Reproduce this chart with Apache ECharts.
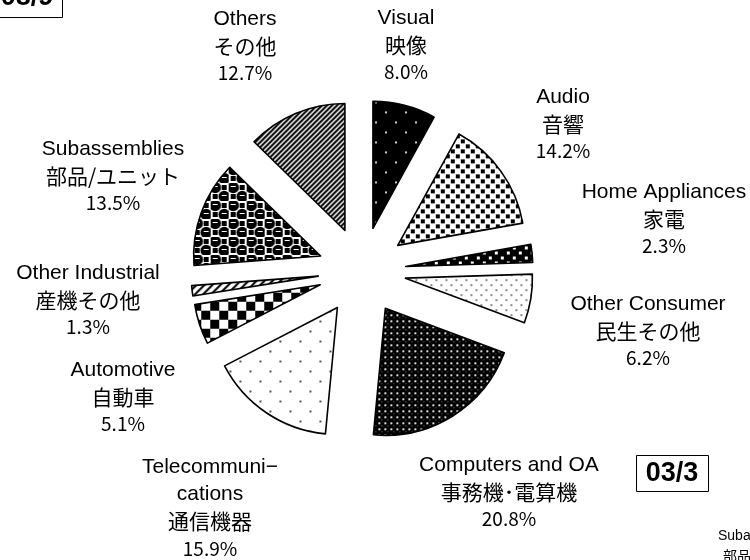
<!DOCTYPE html>
<html>
<head>
<meta charset="utf-8">
<script src="https://cdn.jsdelivr.net/npm/echarts@6/dist/echarts.min.js"></script>
<style>
html,body{margin:0;padding:0;background:#fff;}
#chart{width:750px;height:560px;}
</style>
</head>
<body>
<div id="chart"></div>
<script>
// ---- data ----
var enNames = ['Visual', 'Audio', 'Home Appliances', 'Other Consumer', 'Computers and OA',
  'Telecommuni\u2212\ncations', 'Automotive', 'Other Industrial', 'Subassemblies', 'Others'];
var jaNames = ['映像', '音響', '家電', '民生その他', '事務機･電算機',
  '通信機器', '自動車', '産機その他', '部品/ユニット', 'その他'];
var shares = [8.0, 14.2, 2.3, 6.2, 20.8, 15.9, 5.1, 1.3, 13.5, 12.7];
var periodLabel = '03/3';
var prevPeriodLabel = '08/9';

// ---- label placement (text block centres) ----
var labelX = [406, 563, 664, 648, 509, 210, 123, 88, 113, 245];
var labelY = [45, 124, 219, 331, 492, 508, 397, 300, 176, 46];

// ---- fill patterns ----
function tile(w, h, draw) {
  var c = document.createElement('canvas');
  c.width = w; c.height = h;
  var g = c.getContext('2d');
  draw(g, w, h);
  return { image: c, repeat: 'repeat' };
}
var patterns = [
  // Visual: black with sparse light dots
  tile(20, 20, function (g) {
    g.fillStyle = '#000'; g.fillRect(0, 0, 20, 20);
    g.fillStyle = '#ccc'; g.fillRect(4, 4, 2, 2); g.fillRect(14, 14, 2, 2);
  }),
  // Audio: white with black squares
  tile(10, 10, function (g) {
    g.fillStyle = '#fff'; g.fillRect(0, 0, 10, 10);
    g.fillStyle = '#000'; g.fillRect(0, 0, 4, 4); g.fillRect(5, 5, 4, 4);
  }),
  // Home appliances: black with white squares
  tile(12, 10, function (g) {
    g.fillStyle = '#000'; g.fillRect(0, 0, 12, 10);
    g.fillStyle = '#fff'; g.fillRect(1, 1, 3, 3); g.fillRect(7, 6, 3, 3);
  }),
  // Other consumer: white with fine grey dots
  tile(10, 10, function (g) {
    g.fillStyle = '#fff'; g.fillRect(0, 0, 10, 10);
    g.fillStyle = '#888'; g.fillRect(2, 2, 2, 2); g.fillRect(7, 7, 2, 2);
  }),
  // Computers: dark crosshatch
  tile(6, 6, function (g) {
    g.fillStyle = '#000'; g.fillRect(0, 0, 6, 6);
    g.fillStyle = '#ddd'; g.fillRect(1, 1, 2, 2);
    g.fillStyle = '#777'; g.fillRect(4, 4, 1, 1);
  }),
  // Telecom: white with sparse dark dots
  tile(20, 20, function (g) {
    g.fillStyle = '#fff'; g.fillRect(0, 0, 20, 20);
    g.fillStyle = '#555'; g.fillRect(4, 4, 2, 2); g.fillRect(14, 14, 2, 2);
  }),
  // Automotive: checkerboard
  tile(18, 18, function (g) {
    g.fillStyle = '#fff'; g.fillRect(0, 0, 18, 18);
    g.fillStyle = '#000'; g.fillRect(0, 0, 9, 9); g.fillRect(9, 9, 9, 9);
  }),
  // Other industrial: slashes
  tile(8, 8, function (g) {
    g.fillStyle = '#fff'; g.fillRect(0, 0, 8, 8);
    g.strokeStyle = '#000'; g.lineWidth = 2;
    g.beginPath(); g.moveTo(0, 8); g.lineTo(8, 0);
    g.moveTo(-1, 1); g.lineTo(1, -1); g.moveTo(7, 9); g.lineTo(9, 7); g.stroke();
  }),
  // Subassemblies: spheres on checker
  tile(18, 18, function (g) {
    g.fillStyle = '#fff'; g.fillRect(0, 0, 18, 18);
    g.fillStyle = '#000';
    g.fillRect(11, 2, 5, 5); g.fillRect(2, 11, 5, 5);
    [[4.5, 4.5], [13.5, 13.5]].forEach(function (p) {
      g.beginPath(); g.arc(p[0], p[1], 5.8, 0, Math.PI * 2); g.fill();
    });
    g.fillStyle = '#fff'; g.fillRect(2, 3, 5, 1); g.fillRect(11, 12, 5, 1);
  }),
  // Others: diagonal stripes
  tile(5, 5, function (g) {
    g.fillStyle = '#fff'; g.fillRect(0, 0, 5, 5);
    g.strokeStyle = '#000'; g.lineWidth = 2;
    g.beginPath(); g.moveTo(0, 5); g.lineTo(5, 0);
    g.moveTo(-1, 1); g.lineTo(1, -1); g.moveTo(4, 6); g.lineTo(6, 4); g.stroke();
  })
];

var pieData = shares.map(function (v, i) {
  return { name: jaNames[i], value: v, selected: true, itemStyle: { color: patterns[i] } };
});

var richStyles = {
  en: { fontFamily: 'Liberation Sans', fontSize: 21, lineHeight: 27, fill: '#000', align: 'center' },
  ja: { fontFamily: 'Noto Sans CJK JP', fontSize: 21, lineHeight: 27, fill: '#000', align: 'center' },
  pct: { fontFamily: 'Noto Sans CJK JP', fontSize: 19, lineHeight: 27, fill: '#000', align: 'center' }
};

var labelGraphics = shares.map(function (v, i) {
  var en = enNames[i].split('\n').map(function (s) { return '{en|' + s + '}'; }).join('\n');
  return {
    type: 'text', x: labelX[i], y: labelY[i], silent: true,
    style: {
      text: en + '\n{ja|' + jaNames[i] + '}\n{pct|' + v.toFixed(1) + '%}',
      rich: richStyles, align: 'center', verticalAlign: 'middle', fill: '#000'
    }
  };
});

var chart = echarts.init(document.getElementById('chart'), null, { renderer: 'canvas' });
chart.setOption({
  animation: false,
  backgroundColor: '#fff',
  series: [{
    type: 'pie',
    center: [362, 271],
    radius: [0, 127],
    startAngle: 90,
    clockwise: true,
    selectedMode: 'multiple',
    selectedOffset: 44,
    avoidLabelOverlap: false,
    emphasis: { disabled: true },
    itemStyle: { borderColor: '#000', borderWidth: 1.6 },
    labelLine: { show: false },
    label: { show: false },
    data: pieData
  }],
  graphic: labelGraphics.concat([
    { type: 'rect', shape: { x: 636.5, y: 455.5, width: 72, height: 36 },
      style: { fill: '#fff', stroke: '#000', lineWidth: 1 } },
    { type: 'text', x: 672, y: 474,
      style: { text: periodLabel, font: 'bold 27px "Liberation Sans"', fill: '#000', align: 'center', verticalAlign: 'middle' } },
    { type: 'rect', shape: { x: -9.5, y: -19.5, width: 72, height: 37 },
      style: { fill: '#fff', stroke: '#000', lineWidth: 1 } },
    { type: 'text', x: 27, y: -2,
      style: { text: prevPeriodLabel, font: 'bold 27px "Liberation Sans"', fill: '#000', align: 'center', verticalAlign: 'middle' } },
    { type: 'text', x: 718, y: 536,
      style: { text: 'Subassemblies', font: '14px "Liberation Sans"', fill: '#000', align: 'left', verticalAlign: 'middle' } },
    { type: 'text', x: 723, y: 556,
      style: { text: '部品/ユニット', font: '14px "Noto Sans CJK JP"', fill: '#000', align: 'left', verticalAlign: 'middle' } }
  ])
});
</script>
</body>
</html>
